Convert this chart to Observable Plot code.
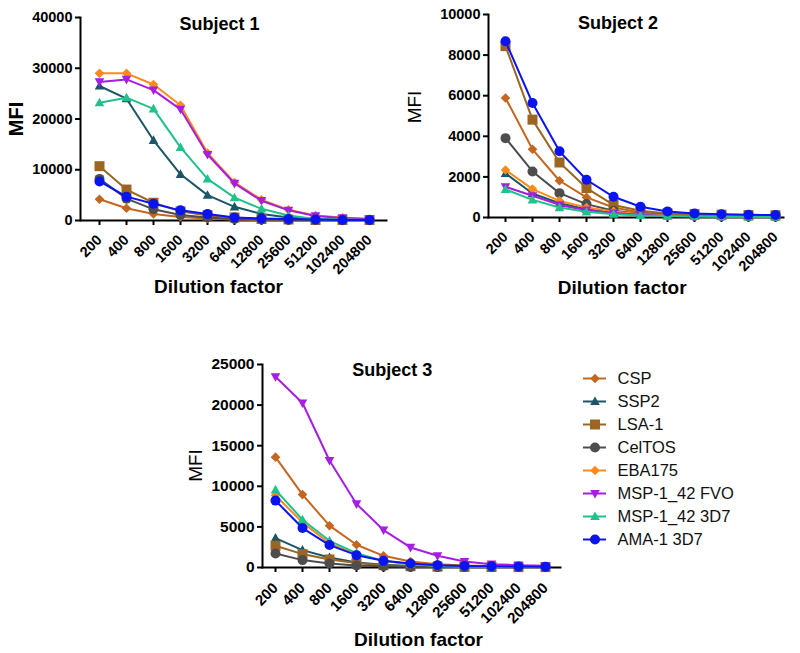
<!DOCTYPE html>
<html><head><meta charset="utf-8">
<script src="https://cdn.jsdelivr.net/npm/d3@7"></script>
<script src="https://cdn.jsdelivr.net/npm/@observablehq/plot@0.6"></script>
<style>
html,body{margin:0;padding:0;background:#fff;}
#wrap{position:relative;width:800px;height:653px;overflow:hidden;background:#fff;}
#wrap > div{position:absolute;}
</style></head><body><div id="wrap"></div>
<script>
// ---- data ----
const dilutions = ["200","400","800","1600","3200","6400","12800","25600","51200","102400","204800"];
const antigens = ["CSP","SSP2","LSA-1","CelTOS","EBA175","MSP-1_42 FVO","MSP-1_42 3D7","AMA-1 3D7"];
const colors = ["#c4661f","#1b5566","#9c6524","#4d4d4d","#ff8a1c","#a61ee0","#1fc28a","#0a14f0"];

// MFI per antigen (rows in antigen order), columns in dilution order
const subject1 = [
  [4200, 2400, 1300, 700, 400, 200, 100, 100, 100, 100, 100],
  [26500, 24000, 15800, 9100, 5000, 2700, 1300, 600, 300, 200, 100],
  [10700, 6100, 3500, 1800, 1000, 600, 300, 200, 100, 100, 100],
  [8200, 4300, 2200, 1100, 600, 300, 200, 100, 100, 100, 100],
  [29000, 29000, 26800, 22700, 13300, 7500, 4100, 2100, 1000, 600, 300],
  [27300, 27800, 25700, 21900, 13000, 7300, 3900, 2000, 900, 500, 300],
  [23200, 24200, 22000, 14400, 8200, 4500, 2300, 1000, 300, 200, 100],
  [7700, 4700, 3300, 2000, 1300, 600, 400, 300, 200, 100, 100]
];
const subject2 = [
  [5890, 3360, 1810, 990, 490, 250, 150, 100, 80, 80, 80],
  [2170, 1180, 700, 410, 250, 140, 90, 70, 50, 40, 40],
  [8440, 4820, 2710, 1450, 620, 330, 200, 170, 140, 120, 110],
  [3910, 2270, 1200, 660, 330, 180, 110, 80, 60, 50, 50],
  [2340, 1400, 820, 490, 300, 160, 100, 80, 60, 50, 50],
  [1510, 1070, 620, 360, 220, 130, 80, 60, 50, 40, 40],
  [1380, 870, 490, 280, 160, 100, 70, 50, 40, 30, 30],
  [8680, 5640, 3260, 1860, 1020, 530, 300, 200, 160, 130, 120]
];
const subject3 = [
  [13590, 8980, 5150, 2800, 1440, 740, 410, 250, 200, 150, 120],
  [3620, 2140, 1240, 620, 330, 200, 120, 80, 60, 50, 50],
  [2680, 1650, 990, 540, 290, 160, 100, 70, 60, 50, 50],
  [1730, 910, 490, 250, 150, 80, 50, 50, 50, 50, 50],
  [8860, 5560, 2970, 1650, 820, 400, 200, 150, 100, 100, 100],
  [23480, 20260, 13180, 7830, 4610, 2470, 1440, 740, 410, 290, 210],
  [9560, 5890, 3290, 1770, 820, 410, 200, 120, 100, 100, 100],
  [8240, 4860, 2760, 1520, 820, 490, 290, 200, 150, 120, 100]
];
const yTicks1 = [0, 10000, 20000, 30000, 40000];
const yTicks2 = [0, 2000, 4000, 6000, 8000, 10000];
const yTicks3 = [0, 5000, 10000, 15000, 20000, 25000];

// ---- marker shapes ----
const symCircle = {draw(c){ c.moveTo(5,0); c.arc(0,0,5,0,2*Math.PI); c.closePath(); }};
const symSquare = {draw(c){ c.rect(-5,-5,10,10); }};
const symDiamond = {draw(c){ c.moveTo(0,-4.8); c.lineTo(4.8,0); c.lineTo(0,4.8); c.lineTo(-4.8,0); c.closePath(); }};
const symTriUp = {draw(c){ c.moveTo(0,-5); c.lineTo(4.8,3.6); c.lineTo(-4.8,3.6); c.closePath(); }};
const symTriDown = {draw(c){ c.moveTo(0,5); c.lineTo(4.8,-3.6); c.lineTo(-4.8,-3.6); c.closePath(); }};
const symbols = [symDiamond, symTriUp, symSquare, symCircle, symDiamond, symTriDown, symTriUp, symCircle];

const FONT = '"Liberation Sans", Arial, Helvetica, sans-serif';
const wrap = document.getElementById("wrap");

function place(node, left, top) {
  const d = document.createElement("div");
  d.style.left = left + "px"; d.style.top = top + "px";
  d.appendChild(node); wrap.appendChild(d);
}

function panel(values, yTicks, L) {
  const rows = [];
  antigens.forEach((a, i) => dilutions.forEach((dl, j) => rows.push({antigen: a, dilution: dl, mfi: values[i][j]})));
  const series = [];
  antigens.forEach((a, i) => {
    const sub = rows.filter(r => r.antigen === a);
    series.push(Plot.line(sub, {x: "dilution", y: "mfi", stroke: "antigen", strokeWidth: 2}));
    series.push(Plot.dot(sub, {x: "dilution", y: "mfi", fill: "antigen", symbol: symbols[i], r: 5}));
  });
  const yMax = yTicks[yTicks.length - 1];
  const p = Plot.plot({
    width: L.width, height: L.height,
    marginLeft: L.mL, marginRight: L.mR, marginTop: L.mT, marginBottom: L.mB,
    style: {fontFamily: FONT, color: "#000", background: "transparent", overflow: "visible"},
    x: {type: "point", domain: dilutions, range: L.xr, padding: 0, axis: null},
    y: {domain: [0, yMax], axis: null},
    color: {domain: antigens, range: colors},
    marks: [
      Plot.axisY({ticks: yTicks, tickFormat: d3.format("d"), tickSize: 5, tickPadding: 3, strokeWidth: 2,
        fontSize: L.yFs, fontWeight: "bold", label: null}),
      Plot.axisX({tickRotate: -45, tickSize: 5, tickPadding: L.xPad, strokeWidth: 2,
        fontSize: L.xFs, fontWeight: "bold", label: null}),
      Plot.frame({anchor: "left", strokeWidth: 2}),
      Plot.frame({anchor: "bottom", strokeWidth: 2}),
      ...series,
      Plot.text([L.title], {text: d => d, frameAnchor: "top-left", dx: L.tDx, dy: L.tDy,
        fontSize: 18, fontWeight: "bold", textAnchor: "middle", lineAnchor: "middle"}),
      Plot.text(["MFI"], {text: d => d, frameAnchor: "left", dx: L.mDx, dy: L.mDy, rotate: -90,
        fontSize: L.mBold ? 20 : 19, fontWeight: L.mBold ? "bold" : "normal", textAnchor: "middle", lineAnchor: "middle"}),
      Plot.text(["Dilution factor"], {text: d => d, frameAnchor: "bottom-left", dx: L.dDx, dy: L.dDy,
        fontSize: 19, fontWeight: "bold", textAnchor: "middle", lineAnchor: "middle"})
    ]
  });
  place(p, L.left, L.top);
}

panel(subject1, yTicks1, {left: 0, top: 0, width: 400, height: 310, mL: 80, mR: 14, mT: 17, mB: 90,
  xr: [95, 372], yFs: 14.5, xFs: 14.5, xPad: 12,
  title: "Subject 1", tDx: 139, tDy: 6.5, mBold: true, mDx: -64.4, mDy: 0, dDx: 138, dDy: 66});
panel(subject2, yTicks2, {left: 400, top: 0, width: 400, height: 310, mL: 88, mR: 17, mT: 14, mB: 93,
  xr: [102, 378], yFs: 14.5, xFs: 14.5, xPad: 12,
  title: "Subject 2", tDx: 129.5, tDy: 8.5, mBold: false, mDx: -74, mDy: -9, dDx: 133.7, dDy: 70});
panel(subject3, yTicks3, {left: 180, top: 320, width: 400, height: 333, mL: 82, mR: 20, mT: 44, mB: 86,
  xr: [92, 368], yFs: 15.5, xFs: 15, xPad: 13,
  title: "Subject 3", tDx: 129.7, tDy: 6.2, mBold: false, mDx: -66.4, mDy: -0.5, dDx: 156, dDy: 72});

// ---- legend ----
const legendMarks = [];
antigens.forEach((a, i) => {
  legendMarks.push(Plot.ruleY([a], {y: d => d, x1: 23, x2: 46, stroke: colors[i], strokeWidth: 2}));
  legendMarks.push(Plot.dot([a], {y: d => d, x: 34.5, fill: colors[i], symbol: symbols[i], r: 5}));
});
legendMarks.push(Plot.text(antigens, {y: d => d, x: 57, text: d => d, textAnchor: "start",
  fontSize: 16.5, fill: "#111"}));
const legend = Plot.plot({
  width: 240, height: 200, margin: 0,
  style: {fontFamily: FONT, color: "#000", background: "transparent", overflow: "visible"},
  x: {type: "identity", axis: null},
  y: {type: "point", domain: antigens, range: [16.7, 181], padding: 0, axis: null},
  marks: legendMarks
});
place(legend, 560, 360);
</script></body></html>
